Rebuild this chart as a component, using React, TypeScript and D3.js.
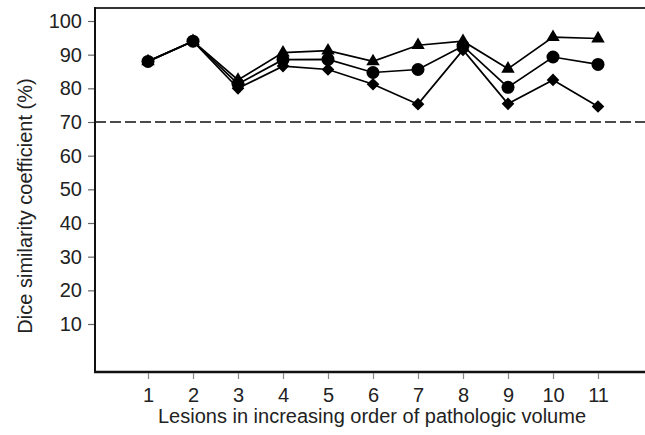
import React, { useEffect, useRef } from "react";
import * as d3 from "d3";

const lesions = [1, 2, 3, 4, 5, 6, 7, 8, 9, 10, 11];
const triangleSeries = [88, 94, 82.5, 90.6, 91.2, 88, 92.8, 94, 85.8, 95.2, 94.8];
const circleSeries = [88, 94, 81.3, 88.5, 88.6, 84.7, 85.6, 92.6, 80.3, 89.3, 87.1];
const diamondSeries = [88, 94, 80, 86.6, 85.6, 81.2, 75.3, 91.4, 75.4, 82.5, 74.6];
const yTicks = [10, 20, 30, 40, 50, 60, 70, 80, 90, 100];
const threshold = 70;

// square turned 45 degrees, wider than d3's own diamond
const squareDiamond = {
  draw(context: any, size: number) {
    const r = Math.sqrt(size / 2);
    context.moveTo(0, -r);
    context.lineTo(r, 0);
    context.lineTo(0, r);
    context.lineTo(-r, 0);
    context.closePath();
  },
};

const App = () => {
  const ref = useRef<SVGSVGElement | null>(null);
  const width = 645;
  const height = 435;

  useEffect(() => {
    const svg = d3.select(ref.current);
    svg.selectAll("*").remove();

    const left = 95;
    const top = 8;
    const bottom = 372;
    const right = 652;

    const x = d3.scaleLinear().domain([1, 11]).range([148, 598]);
    const y = d3.scaleLinear().domain([10, 100]).range([324, 21]);

    const font = "'Liberation Sans', Arial, sans-serif";

    // frame
    svg.append("line")
      .attr("x1", left).attr("x2", right)
      .attr("y1", top).attr("y2", top)
      .attr("stroke", "#333").attr("stroke-width", 2);
    svg.append("line")
      .attr("x1", left).attr("x2", left)
      .attr("y1", top - 1).attr("y2", bottom)
      .attr("stroke", "#111").attr("stroke-width", 2);
    svg.append("line")
      .attr("x1", left - 1).attr("x2", right)
      .attr("y1", bottom).attr("y2", bottom)
      .attr("stroke", "#111").attr("stroke-width", 2.5);

    // y axis
    const yAxis = d3.axisLeft(y).tickValues(yTicks).tickSize(6).tickPadding(6);
    const yg = svg.append("g")
      .attr("transform", `translate(${left - 1},0)`)
      .call(yAxis);
    yg.select(".domain").remove();
    yg.selectAll("line").attr("stroke", "#666").attr("stroke-width", 1.2);
    yg.selectAll("text")
      .attr("font-family", font)
      .attr("font-size", 20)
      .attr("fill", "#222");

    // x axis
    const xAxis = d3.axisBottom(x).tickValues(lesions).tickSize(6).tickPadding(9).tickFormat(d3.format("d"));
    const xg = svg.append("g")
      .attr("transform", `translate(0,${bottom + 1})`)
      .call(xAxis);
    xg.select(".domain").remove();
    xg.selectAll("line").attr("stroke", "#888").attr("stroke-width", 1.2);
    xg.selectAll("text")
      .attr("font-family", font)
      .attr("font-size", 20)
      .attr("fill", "#222");

    // titles
    svg.append("text")
      .attr("x", 372).attr("y", 423)
      .attr("text-anchor", "middle")
      .attr("font-family", font)
      .attr("font-size", 20)
      .attr("fill", "#222")
      .text("Lesions in increasing order of pathologic volume");
    svg.append("text")
      .attr("transform", `translate(32,206) rotate(-90)`)
      .attr("text-anchor", "middle")
      .attr("font-family", font)
      .attr("font-size", 20)
      .attr("fill", "#222")
      .text("Dice similarity coefficient (%)");

    // threshold
    svg.append("line")
      .attr("x1", left).attr("x2", right)
      .attr("y1", y(threshold)).attr("y2", y(threshold))
      .attr("stroke", "#111").attr("stroke-width", 1.6)
      .attr("stroke-dasharray", "11,4");

    const series = [
      { values: triangleSeries, symbol: d3.symbolTriangle, size: 78 },
      { values: circleSeries, symbol: d3.symbolCircle, size: 133 },
      { values: diamondSeries, symbol: squareDiamond, size: 80 },
    ];

    const line = d3.line<number>()
      .x((_, i) => x(lesions[i]))
      .y((d) => y(d));

    series.forEach((s) => {
      svg.append("path")
        .datum(s.values)
        .attr("d", line)
        .attr("fill", "none")
        .attr("stroke", "#000")
        .attr("stroke-width", 1.7);
    });

    series.forEach((s) => {
      svg.append("g")
        .selectAll("path")
        .data(s.values)
        .enter()
        .append("path")
        .attr("transform", (d, i) => `translate(${x(lesions[i])},${y(d)})`)
        .attr("d", d3.symbol().type(s.symbol as any).size(s.size)())
        .attr("fill", "#000");
    });
  }, []);

  return (
    <svg
      ref={ref}
      width={width}
      height={height}
      style={{ position: "absolute", left: 0, top: 0, background: "#fff" }}
    />
  );
};

export default App;
